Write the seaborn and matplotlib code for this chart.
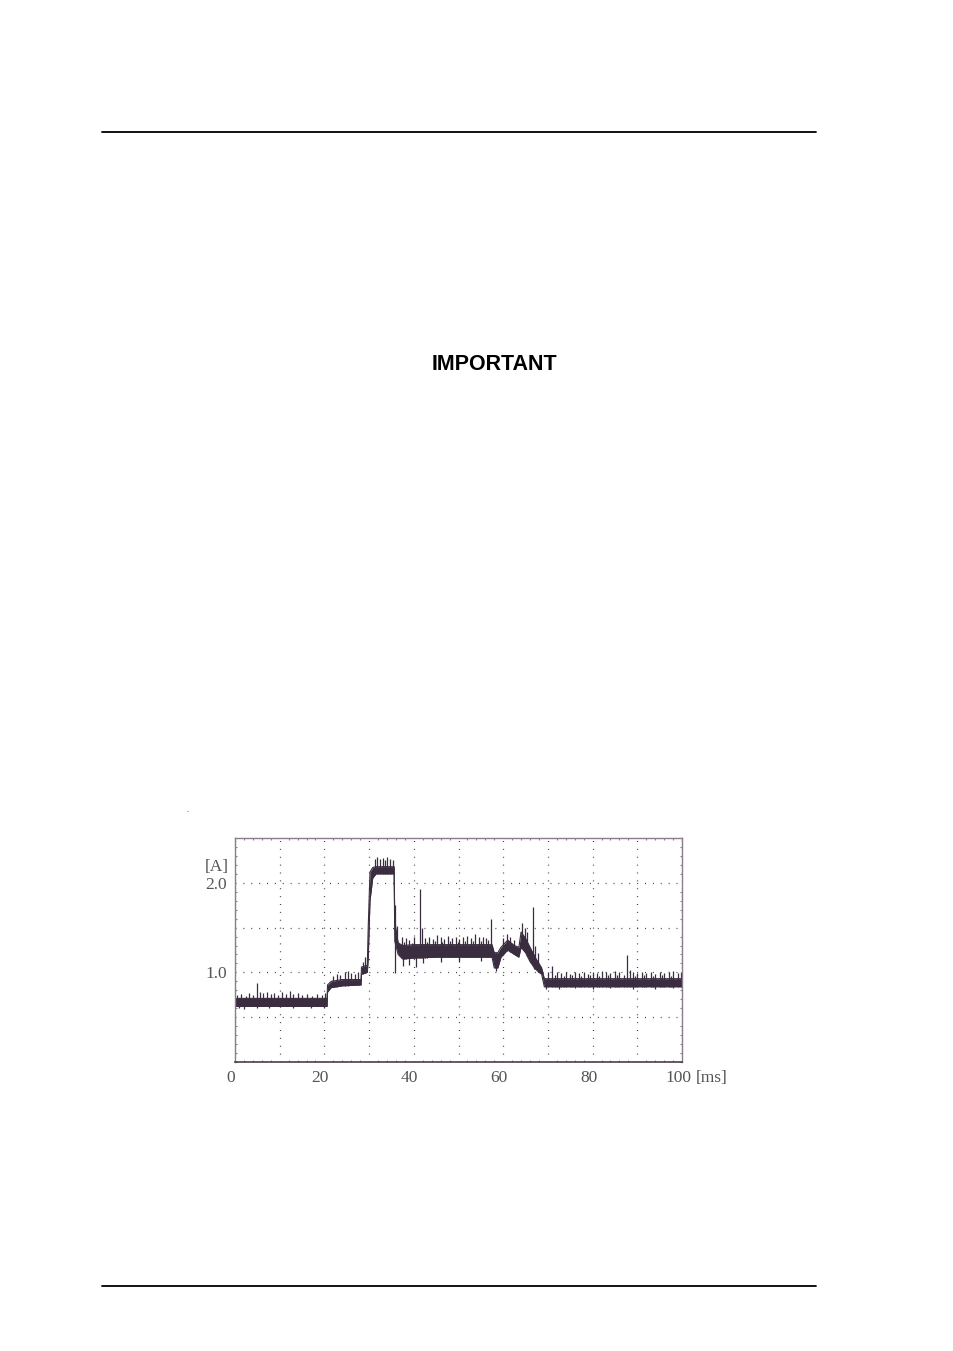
import numpy as np
import pandas as pd
import seaborn as sns
import matplotlib.pyplot as plt
import matplotlib.transforms as mtransforms
from matplotlib.lines import Line2D

# envelope of the current trace (ms, A)
t_env = [0, 20.6, 20.7, 21.5, 24, 28.2, 28.3, 29.6, 29.8, 30.2, 30.8, 31.5,
         35.6, 35.75, 36.5, 37.5, 40, 45, 50, 55, 57.5, 58.0, 58.8, 59.5,
         61, 62.5, 63.5, 64.0, 65, 66, 67, 68, 68.6, 69.2, 72, 80, 90, 100]
env_lo = [0.62, 0.62, 0.78, 0.83, 0.85, 0.86, 0.98, 1.00, 1.15, 1.80, 2.05, 2.10,
          2.10, 1.35, 1.20, 1.15, 1.16, 1.17, 1.17, 1.17, 1.17, 1.05, 1.05, 1.17,
          1.25, 1.20, 1.17, 1.28, 1.22, 1.12, 1.05, 1.00, 0.98, 0.84, 0.84, 0.84, 0.84, 0.84]
env_hi = [0.71, 0.71, 0.86, 0.90, 0.92, 0.92, 1.06, 1.08, 1.50, 2.12, 2.17, 2.18,
          2.18, 1.55, 1.33, 1.30, 1.31, 1.31, 1.31, 1.31, 1.31, 1.22, 1.22, 1.28,
          1.36, 1.30, 1.28, 1.45, 1.38, 1.28, 1.18, 1.10, 1.05, 0.93, 0.93, 0.93, 0.93, 0.93]

# upward noise spikes (ms, A)
spike_t = [0.5, 1.3, 2.4, 3.2, 4.1, 4.9, 5.6, 6.3, 7.2, 8.0, 8.8, 9.6, 10.5, 11.4,
           12.3, 13.0, 14.1, 15.0, 16.2, 17.3, 18.4, 19.5, 20.2,
           22.0, 22.8, 23.6, 24.5, 25.3, 26.0, 26.8, 27.6, 28.6, 29.0,
           31.3, 31.8, 32.4, 33.0, 33.5, 34.1, 34.7, 35.3, 35.8, 36.2,
           37.3, 37.8, 38.2, 39.0, 39.5, 40.0, 41.4, 41.8, 42.6, 43.0, 43.4, 44.3,
           44.7, 45.1, 46.0, 46.4, 46.8, 47.7, 48.1, 48.5, 49.4, 49.8, 50.2, 51.1,
           51.5, 52.0, 52.9, 53.3, 53.7, 54.5, 55.0, 55.4, 56.2, 56.7, 57.2,
           60.0, 60.8, 61.6, 62.4, 64.2, 64.8, 65.4, 66.6, 67.2, 67.8,
           70.0, 71.0, 71.5, 72.0, 73.0, 73.5, 74.0, 75.0, 75.5, 76.0, 77.0, 77.5,
           78.0, 79.0, 79.5, 80.0, 81.0, 81.5, 82.0, 83.0, 83.5, 84.0, 85.0, 85.5,
           86.0, 87.0, 87.6, 88.3, 89.0, 89.5, 90.0, 91.0, 91.5, 92.0, 93.0, 93.5,
           94.0, 95.0, 95.5, 96.0, 97.0, 97.5, 98.0, 99.0, 99.7]
spike_hi = [0.75, 0.76, 0.74, 0.77, 0.75, 0.88, 0.78, 0.77, 0.78, 0.76, 0.77, 0.75, 0.78, 0.76,
            0.79, 0.76, 0.77, 0.75, 0.76, 0.74, 0.76, 0.75, 0.77,
            0.96, 0.98, 0.97, 1.00, 1.02, 0.99, 0.98, 1.01, 1.12, 1.17,
            2.27, 2.29, 2.27, 2.28, 2.26, 2.29, 2.27, 2.25, 1.75, 1.52,
            1.40, 1.34, 1.38, 1.36, 1.33, 1.40, 1.93, 1.50, 1.38, 1.34, 1.40, 1.37,
            1.35, 1.42, 1.39, 1.34, 1.37, 1.41, 1.35, 1.38, 1.40, 1.34, 1.37, 1.39,
            1.35, 1.41, 1.38, 1.35, 1.43, 1.39, 1.35, 1.40, 1.38, 1.36, 1.60,
            1.38, 1.43, 1.40, 1.36, 1.55, 1.50, 1.45, 1.73, 1.30, 1.22,
            1.00, 1.07, 0.97, 1.01, 0.99, 0.96, 1.00, 0.98, 0.97, 1.01, 0.99, 0.96,
            1.00, 0.98, 0.97, 1.01, 0.99, 0.96, 1.02, 1.00, 0.97, 0.99, 1.02, 0.97,
            1.00, 0.97, 1.19, 1.03, 1.00, 0.96, 0.99, 1.01, 0.97, 0.99, 1.00, 0.96,
            0.98, 1.01, 0.97, 0.99, 1.00, 0.96, 1.02, 0.99, 1.01]

# downward noise dips (ms, A)
dip_t = [0.8, 2.0, 5.0, 7.5, 10.0, 13.0, 17.0, 19.8, 35.8, 37.5, 39.0, 40.5, 42.0,
         46.0, 50.0, 55.0, 58.3, 66.8, 69.5, 72.5, 76.0, 80.0, 84.0, 89.0, 94.0, 98.0]
dip_lo = [0.60, 0.59, 0.60, 0.60, 0.61, 0.60, 0.60, 0.60, 0.99, 1.07, 1.08, 1.06, 1.10,
          1.12, 1.12, 1.13, 1.02, 1.04, 0.82, 0.82, 0.83, 0.82, 0.83, 0.82, 0.82, 0.83]

x_labels = ['0', '20', '40', '60', '80', '100']
y_labels = {1.0: '1.0', 2.0: '2.0'}

trace = '#3a2d3f'
frame = '#8c7d8c'
txt = '#555555'

sns.set_theme(style='white')
plt.rcParams['font.family'] = ['Liberation Serif', 'DejaVu Serif']

fig = plt.figure(figsize=(9.54, 13.51), dpi=100)
ax = fig.add_axes([235/954, 1-1062/1351, 447/954, 224/1351])

env = pd.DataFrame({'t': t_env, 'lo': env_lo, 'hi': env_hi})
ax.fill_between(env['t'], env['lo'], env['hi'], color=trace, linewidth=0)
sns.lineplot(data=env, x='t', y='lo', ax=ax, color=trace, linewidth=0.8, estimator=None)
sns.lineplot(data=env, x='t', y='hi', ax=ax, color=trace, linewidth=0.8, estimator=None)

mid = np.interp(spike_t, t_env, env_lo)
ax.vlines(spike_t, mid, spike_hi, color=trace, linewidth=0.9)
mid2 = np.interp(dip_t, t_env, env_hi)
ax.vlines(dip_t, dip_lo, mid2, color=trace, linewidth=0.9)

ax.set_xlim(0, 100)
ax.set_ylim(0, 2.5)
ax.set_xlabel('')
ax.set_ylabel('')

ax.set_xticks(np.arange(0, 101, 10))
ax.set_xticklabels([x_labels[i // 2] if i % 2 == 0 else '' for i in range(11)],
                   fontsize=12.5, color=txt)
ax.set_yticks([0.5, 1.0, 1.5, 2.0])
ax.set_yticklabels([y_labels.get(v, '') for v in [0.5, 1.0, 1.5, 2.0]], fontsize=12.5, color=txt)
ax.set_xticks(np.arange(0, 101, 2), minor=True)
ax.set_yticks(np.arange(0, 2.51, 0.1), minor=True)
ax.tick_params(which='major', direction='in', length=0, pad=6)
ax.tick_params(which='minor', direction='in', length=1.5, width=0.8, color=frame,
               top=True, right=True, bottom=True, left=True)
ax.grid(True, which='major', linestyle=(0, (0.8, 5.5)), color='#444444', linewidth=0.9)
ax.set_axisbelow(True)

# the scope print puts the x labels a little left of their ticks
shift = mtransforms.ScaledTranslation(-4/100, 0, fig.dpi_scale_trans)
for lab in ax.get_xticklabels():
    lab.set_transform(lab.get_transform() + shift)

for s in ['top', 'right', 'left']:
    ax.spines[s].set_color(frame)
    ax.spines[s].set_linewidth(1.0)
ax.spines['bottom'].set_color('#4a3d4a')
ax.spines['bottom'].set_linewidth(1.2)

ax.text(-0.015, 2.18, '[A]', transform=ax.get_yaxis_transform(), ha='right', va='center',
        fontsize=12.5, color=txt)
ax.text(1.03, -0.07, '[ms]', transform=ax.transAxes, ha='left', va='center',
        fontsize=12.5, color=txt)

fig.text(186/954, 1-812/1351, '.', fontsize=6, color='#333333')
fig.text(494/954, 1-364/1351, 'IMPORTANT', family='Liberation Sans', fontweight='bold',
         fontsize=15.5, ha='center', va='center', color='black')
fig.add_artist(Line2D([102/954, 816/954], [1-132/1351, 1-132/1351], color='black', lw=1.3))
fig.add_artist(Line2D([102/954, 816/954], [1-1286/1351, 1-1286/1351], color='black', lw=1.3))

fig.savefig('out.png', dpi=100, facecolor='white')
